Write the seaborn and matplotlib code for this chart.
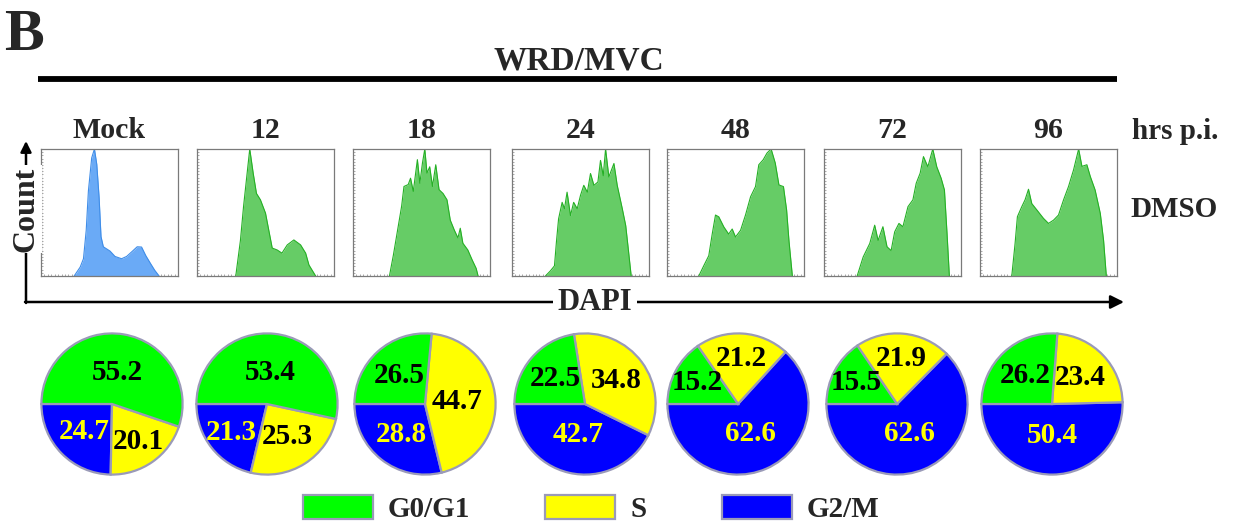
import numpy as np
import matplotlib
matplotlib.use('Agg')
import matplotlib.pyplot as plt
import matplotlib.patches as mpatches
import seaborn as sns

# 樣式設定 (set_style 之後再設定字型)
sns.set_style('white')
plt.rcParams['font.family'] = ['Liberation Serif', 'DejaVu Serif']
plt.rcParams['font.weight'] = 'bold'

# 時間點標籤
time_labels = ['Mock', '12', '18', '24', '48', '72', '96']

# DAPI 直方圖輪廓 (x: 通道 0-100, y: 相對計數 0-100)
mock_x = [24.2, 28.6, 31, 33, 34.6, 37, 39, 40.7, 42.4, 43.8, 45.5, 50.4, 54, 58.8, 62.5, 66.8, 70.2, 73.4, 76.5, 80, 83, 86.2]
mock_y = [0, 7, 13.6, 36, 67, 93, 100, 88, 62, 31, 23, 19.6, 15.4, 13.6, 15.4, 19.6, 23, 22.8, 16, 9.7, 4.5, 0]

h12_x = [28.3, 31.7, 34, 36.6, 38.5, 41, 43.4, 46.3, 50, 52.4, 54.9, 58.5, 62, 65.9, 70.7, 75.6, 79.3, 81.7, 86.6]
h12_y = [0, 28, 55, 81, 100, 81, 65, 60, 49.5, 36, 22, 20.5, 18, 24.5, 28.4, 24.5, 18, 8.7, 0]

h18_x = [26.6, 29.5, 33, 35.5, 37.2, 40.3, 42, 44, 47, 48.8, 50.7, 52.4, 54, 56, 58, 60.4, 62.8, 65.7, 68.6, 71,
         74, 76.6, 78.3, 80.2, 83.8, 87, 89.9, 91.3]
h18_y = [0, 16.6, 39, 55, 70.5, 72, 77, 66.6, 91.6, 73, 89, 100, 81, 86, 70.5, 87.6, 68, 65, 60, 44,
         36, 30, 37.6, 25.8, 20.5, 12.6, 6, 0]

h24_x = [24.4, 28, 31, 32.4, 34, 36.6, 38.3, 40.2, 42.7, 45, 47.6, 50, 52.4, 55, 57.3, 59.8, 62.7, 64.6, 66.6, 68.3,
         70.7, 74.4, 76.8, 80.5, 83, 84.6, 87]
h24_y = [0, 4, 8, 26.5, 45, 58, 53, 66, 47.6, 58, 53, 63.5, 71.4, 66, 80.7, 71.4, 74, 91, 79, 100,
         78, 88.6, 71.4, 53, 39.7, 24, 0]

h48_x = [23.2, 26.8, 30.5, 33, 35.4, 37.8, 41.5, 45, 47.6, 50, 53.7, 57.3, 61, 64.6, 67, 70.2, 73, 76, 79, 81.7,
         85, 87.3, 89, 91.5]
h48_y = [0, 8, 16, 33, 48, 46.6, 38.6, 33, 37, 30.7, 36, 48, 62.4, 70.4, 87.6, 91.5, 96.8, 100, 89, 71.7,
         70.4, 52, 28, 0]

h72_x = [24.2, 28.6, 33.4, 37, 39.5, 43, 46, 49, 51.6, 54.7, 57.6, 61.3, 64.9, 67.3, 70.2, 72.6, 75.8, 79.4, 82.3,
         85.5, 87.9, 89.8, 91.5]
h72_y = [0, 15, 25.6, 40, 28, 38.8, 23, 20, 34.8, 41.4, 38.8, 54.6, 60, 73, 81, 94, 86, 100, 86,
         77, 67.8, 33.5, 0]

h96_x = [23.2, 25.6, 27.3, 30.5, 32.9, 35.4, 37.8, 41.5, 46.3, 50, 53.7, 57.3, 61, 64.6, 68.3, 72, 74.4, 78, 80.5,
         84, 87.8, 90.2, 92.2]
h96_y = [0, 25.6, 46.7, 54.6, 60, 68.3, 57, 52, 45.4, 41.4, 44, 48, 60, 70.4, 83.6, 100, 86.3, 87.6, 78.4,
         67.8, 49.3, 28, 0]

hist_xs = [mock_x, h12_x, h18_x, h24_x, h48_x, h72_x, h96_x]
hist_ys = [mock_y, h12_y, h18_y, h24_y, h48_y, h72_y, h96_y]

# 細胞週期比例 (%)
phases = ['G0/G1', 'S', 'G2/M']
g0g1_pct = [55.2, 53.4, 26.5, 22.5, 15.2, 15.5, 26.2]
s_pct = [20.1, 25.3, 44.7, 34.8, 21.2, 21.9, 23.4]
g2m_pct = [24.7, 21.3, 28.8, 42.7, 62.6, 62.6, 50.4]

phase_colors = ['#00ff00', '#ffff00', '#0000ff']
pie_edge = '#9a9ab8'

W, H = 1234, 527
fig = plt.figure(figsize=(W / 100, H / 100), dpi=100)
fig.patch.set_facecolor('white')


def px_axes(left, top, w, h):
    return fig.add_axes([left / W, 1 - (top + h) / H, w / W, h / H])


# 直方圖
hist_left = [41, 197, 353, 512, 667, 824, 980]
for i in range(7):
    ax = px_axes(hist_left[i], 149, 137, 127)
    if i == 0:
        fc, ec = '#6aaaf6', '#3f8de8'
    else:
        fc, ec = '#66cc66', '#25b025'
    ax.fill_between(hist_xs[i], hist_ys[i], 0, color=fc, lw=0)
    sns.lineplot(x=hist_xs[i], y=hist_ys[i], ax=ax, color=ec, lw=0.8)
    ax.set_xlim(0, 100)
    ax.set_ylim(0, 100)
    ax.set_xticks(np.arange(0, 101, 2.5))
    ax.set_yticks(np.arange(0, 101, 2.5))
    ax.tick_params(direction='in', length=1.5, width=0.5, color='#888888',
                   labelbottom=False, labelleft=False, bottom=True, left=True)
    for sp in ax.spines.values():
        sp.set_color('#7a7a7a')
        sp.set_linewidth(0.9)
    ax.set_xlabel('')
    ax.set_ylabel('')

# 圓餅圖
pie_cx = [112, 267, 425, 585, 738, 897, 1052]
pie_r = 72
for i in range(7):
    ax = px_axes(pie_cx[i] - pie_r, 404 - pie_r, 2 * pie_r, 2 * pie_r)
    vals = [g2m_pct[i], s_pct[i], g0g1_pct[i]]
    cols = [phase_colors[2], phase_colors[1], phase_colors[0]]
    wedges, _ = ax.pie(vals, colors=cols, startangle=180, counterclock=True,
                       wedgeprops=dict(edgecolor=pie_edge, linewidth=1.6))
    for w, v, c in zip(wedges, vals, cols):
        mid = np.deg2rad((w.theta1 + w.theta2) / 2)
        if v < 22:
            r = 0.65
        elif v > 40:
            r = 0.45
        else:
            r = 0.55
        tc = '#ffff00' if c == '#0000ff' else 'black'
        ax.text(r * np.cos(mid), r * np.sin(mid), f'{v:.1f}', ha='center', va='center',
                fontsize=21, fontweight='bold', color=tc)
    ax.set_xlim(-1.02, 1.02)
    ax.set_ylim(-1.02, 1.02)

# 圖例
handles = [mpatches.Patch(facecolor=c, edgecolor=pie_edge, linewidth=1.6, label=p)
           for p, c in zip(phases, phase_colors)]
fig.legend(handles=handles, loc='center', bbox_to_anchor=(591 / W, 1 - 509 / H), ncol=3,
           frameon=False, fontsize=21, handlelength=2.4, handleheight=0.9,
           handletextpad=0.5, columnspacing=2.6)

# 文字與箭頭 (像素座標)
ov = fig.add_axes([0, 0, 1, 1])
ov.set_xlim(0, W)
ov.set_ylim(H, 0)
ov.axis('off')
ov.patch.set_alpha(0)

ov.text(4, 50, 'B', fontsize=43, fontweight='bold', ha='left', va='baseline')
ov.text(579, 70, 'WRD/MVC', fontsize=24, fontweight='bold', ha='center', va='baseline')
ov.plot([38, 1117], [79, 79], color='black', lw=4.2, solid_capstyle='butt')

for i, lab in enumerate(time_labels):
    ov.text(hist_left[i] + 68.5, 138, lab, fontsize=21.5, fontweight='bold', ha='center', va='baseline')
ov.text(1132, 139, 'hrs p.i.', fontsize=21, fontweight='bold', ha='left', va='baseline')
ov.text(1130, 217, 'DMSO', fontsize=21, fontweight='bold', ha='left', va='baseline')

ov.annotate('', xy=(1124, 302), xytext=(25, 302),
            arrowprops=dict(arrowstyle='-|>', lw=1.8, color='black', mutation_scale=20, shrinkA=0, shrinkB=0))
ov.annotate('', xy=(26, 141), xytext=(26, 303),
            arrowprops=dict(arrowstyle='-|>', lw=1.8, color='black', mutation_scale=16, shrinkA=0, shrinkB=0))
ov.text(26, 209, 'Count', fontsize=23, fontweight='bold', rotation=90, ha='center', va='center',
        bbox=dict(facecolor='white', edgecolor='none', pad=1))
ov.text(595, 303, 'DAPI', fontsize=22, fontweight='bold', ha='center', va='center',
        bbox=dict(facecolor='white', edgecolor='none', pad=3))

fig.savefig('out.png', dpi=100, facecolor='white')
